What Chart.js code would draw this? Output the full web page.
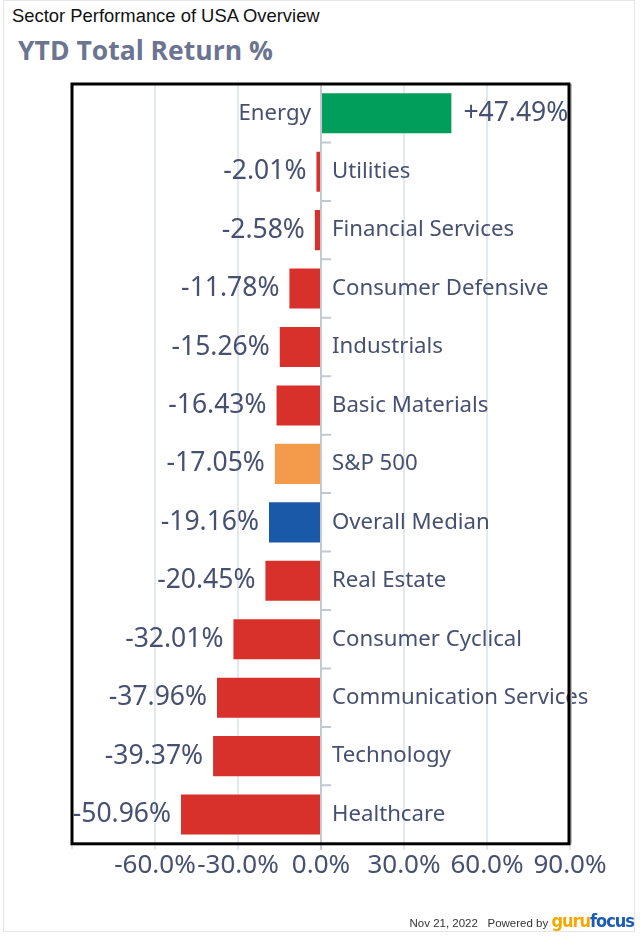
<!DOCTYPE html>
<html>
<head>
<meta charset="utf-8">
<script src="https://cdn.jsdelivr.net/npm/chart.js@4.4.0/dist/chart.umd.min.js"></script>
<style>
  body { margin: 0; background: #fff; width: 640px; height: 938px; position: relative; overflow: hidden; }
  #marco { position: absolute; left: 3px; top: 0; width: 632px; height: 932px; border: 1px solid #e6e6e6; box-sizing: border-box; }
  #subtitulo { position: absolute; left: 12px; top: 5px; font: 18.4px "Liberation Sans", Arial, sans-serif; color: #111; }
  #titulo { position: absolute; left: 18px; top: 32px; font: bold 26.5px "Open Sans", "Noto Sans", sans-serif; color: #6b7591; }
  #pie { position: absolute; right: 6px; top: 910px; font: 11.5px "Liberation Sans", Arial, sans-serif; color: #333; white-space: nowrap; }
  #pie .guru { font: bold 18px "Liberation Sans Narrow", "DejaVu Sans Condensed", sans-serif; color: #f5a800; letter-spacing: -1px; }
  #pie .focus { font: bold 18px "Liberation Sans Narrow", "DejaVu Sans Condensed", sans-serif; color: #1a5bb5; letter-spacing: -1px; }
  #contenedor { position: absolute; left: 0; top: 0; width: 640px; height: 938px; }
</style>
</head>
<body>
<div id="marco"></div>
<div id="subtitulo">Sector Performance of USA Overview</div>
<div id="titulo">YTD Total Return %</div>
<div id="contenedor"><canvas id="canvas_grafica"></canvas></div>
<div id="pie">Nov 21, 2022 &nbsp; Powered by <span class="guru">guru</span><span class="focus">focus</span></div>
<script>
const sectores = ['Energy', 'Utilities', 'Financial Services', 'Consumer Defensive', 'Industrials',
    'Basic Materials', 'S&P 500', 'Overall Median', 'Real Estate', 'Consumer Cyclical',
    'Communication Services', 'Technology', 'Healthcare'];
const rendimientos = [47.49, -2.01, -2.58, -11.78, -15.26, -16.43, -17.05, -19.16, -20.45, -32.01, -37.96, -39.37, -50.96];
const colores = ['#009e5a', '#d8312b', '#d8312b', '#d8312b', '#d8312b', '#d8312b', '#f39b4b', '#1a59a8',
    '#d8312b', '#d8312b', '#d8312b', '#d8312b', '#d8312b'];
const ticks_x = [-90, -60, -30, 0, 30, 60, 90];

const color_texto = '#465070';
const fuente_num = '26.5px "Noto Sans", sans-serif';
const fuente_cat = '22.2px "Noto Sans", sans-serif';

// etiquetas de valor y nombre junto a cada barra
const etiquetas_plugin = {
    id: 'etiquetas',
    afterDatasetsDraw(chart) {
        const ctx = chart.ctx;
        const x0 = chart.scales.x.getPixelForValue(0);
        const meta = chart.getDatasetMeta(0);
        ctx.save();
        ctx.fillStyle = color_texto;
        ctx.textBaseline = 'middle';
        meta.data.forEach((barra, i) => {
            const v = rendimientos[i];
            if (v < 0) {
                ctx.font = fuente_num;
                ctx.textAlign = 'right';
                ctx.fillText(v.toFixed(2) + '%', barra.x - 9, barra.y);
                ctx.font = fuente_cat;
                ctx.textAlign = 'left';
                ctx.fillText(sectores[i], x0 + 11, barra.y);
            } else {
                ctx.font = fuente_cat;
                ctx.textAlign = 'right';
                ctx.fillText(sectores[i], x0 - 10, barra.y);
                ctx.font = fuente_num;
                ctx.textAlign = 'left';
                ctx.fillText('+' + v.toFixed(2) + '%', barra.x + 11, barra.y);
            }
        });
        ctx.restore();
    }
};

// eje en cero con marcas cortas y el marco negro del area
const marco_plugin = {
    id: 'marco',
    beforeDatasetsDraw(chart) {
        const ctx = chart.ctx;
        const area = chart.chartArea;
        const x0 = chart.scales.x.getPixelForValue(0);
        const y = chart.scales.y;
        ctx.save();
        ctx.strokeStyle = '#c3c8d2';
        ctx.lineWidth = 2;
        ctx.beginPath();
        ctx.moveTo(x0, area.top);
        ctx.lineTo(x0, area.bottom + 6);
        for (let i = 0; i <= sectores.length; i++) {
            const yy = y.getPixelForValue(i - 0.5);
            ctx.moveTo(x0, yy);
            ctx.lineTo(x0 + 10, yy);
        }
        ctx.stroke();
        ctx.restore();
    },
    afterDraw(chart) {
        const ctx = chart.ctx;
        const a = chart.chartArea;
        ctx.save();
        ctx.strokeStyle = '#c0c0c0';
        ctx.lineWidth = 2;
        ctx.beginPath();
        ctx.moveTo(a.right + 1, a.top);
        ctx.lineTo(a.right + 1, a.bottom);
        ctx.stroke();
        ctx.strokeStyle = '#000';
        ctx.lineWidth = 3;
        ctx.strokeRect(a.left, a.top, a.right - a.left - 1, a.bottom - a.top);
        ctx.restore();
    }
};

new Chart(document.getElementById('canvas_grafica').getContext('2d'), {
    type: 'bar',
    data: {
        labels: sectores,
        datasets: [{
            data: rendimientos,
            backgroundColor: colores,
            borderColor: 'rgba(255,255,255,0.35)',
            borderWidth: 1,
            barPercentage: 0.72,
            categoryPercentage: 1
        }]
    },
    options: {
        indexAxis: 'y',
        responsive: true,
        maintainAspectRatio: false,
        animation: false,
        layout: { padding: { left: 72, right: 70, top: 84, bottom: 57 } },
        plugins: { legend: { display: false }, tooltip: { enabled: false } },
        scales: {
            x: {
                min: -90,
                max: 90,
                afterBuildTicks: (eje) => { eje.ticks = ticks_x.map(v => ({ value: v })); },
                grid: { color: '#e3e7ee', lineWidth: 2, tickLength: 6 },
                border: { display: false },
                ticks: {
                    color: color_texto,
                    font: { family: 'Noto Sans', size: 26 },
                    padding: 0,
                    maxRotation: 0,
                    autoSkip: false,
                    callback: (v) => v === -90 ? '' : v.toFixed(1) + '%'
                }
            },
            y: {
                display: false
            }
        }
    },
    plugins: [marco_plugin, etiquetas_plugin]
});
</script>
</body>
</html>
